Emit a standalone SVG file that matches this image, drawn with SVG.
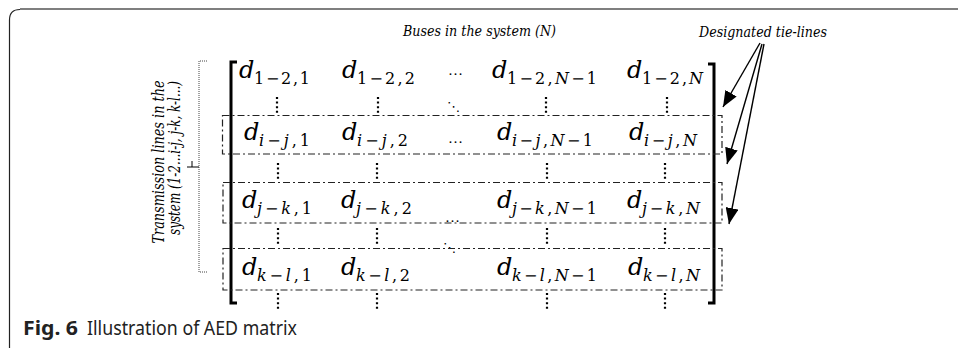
<svg xmlns="http://www.w3.org/2000/svg" width="958" height="348" viewBox="0 0 958 348">
<defs>
<style>
.d{font-family:"DejaVu Serif",serif;font-style:italic;font-size:24px;fill:#000}
.sub{font-family:"DejaVu Serif",serif;font-size:16px;fill:#000}
.it{font-style:italic}
.lbl{font-family:"DejaVu Serif",serif;font-style:italic;font-size:15px;fill:#000}
.vl{font-family:"DejaVu Serif",serif;font-style:italic;font-size:16px;fill:#000}
.dd{fill:none;stroke:#222;stroke-width:1.2;stroke-dasharray:7 3 2 3}
.vd{stroke:#000;stroke-width:2.2;stroke-dasharray:2 2.6}
.br{fill:none;stroke:#000;stroke-width:3}
.arr{stroke:#000;stroke-width:1.4;fill:none;marker-end:url(#ah)}
.ell{font-family:"Liberation Serif",serif;font-size:15px;fill:#000}
.dg{font-family:"DejaVu Sans",sans-serif;font-size:13px;fill:#000}
</style>
<marker id="ah" markerUnits="userSpaceOnUse" markerWidth="17" markerHeight="13" refX="16" refY="6.5" orient="auto">
<path d="M0,0 L16,6.5 L0,13 z" fill="#000"/>
</marker>
</defs>
<g id="frame">
<path d="M9.5 348 V20 Q9.5 9.5 20 9.5" fill="none" stroke="#222" stroke-width="1.2"/>
<line x1="20" y1="9" x2="958" y2="9" stroke="#7f7f7f" stroke-width="2"/>
</g>
<g id="title-buses"><text class="lbl" x="403" y="36" textLength="153" lengthAdjust="spacingAndGlyphs">Buses in the system (N)</text></g>
<g id="title-tielines"><text class="lbl" x="699" y="37" textLength="128" lengthAdjust="spacingAndGlyphs">Designated tie-lines</text></g>
<g id="label-lines">
<path d="M207 61 H199 V272 H207" fill="none" stroke="#444" stroke-width="1" stroke-dasharray="1 1"/>
<path d="M187 167 H199 M192 161 V167" fill="none" stroke="#000" stroke-width="1"/>
<text class="vl" transform="translate(164 162) rotate(-90)" text-anchor="middle" textLength="163" lengthAdjust="spacingAndGlyphs">Transmission lines in the</text>
<text class="vl" transform="translate(180 158) rotate(-90)" text-anchor="middle" textLength="154" lengthAdjust="spacingAndGlyphs">system (1-2...i-j, j-k, k-l...)</text>
</g>
<g id="matrix">
<path class="br" d="M237 62 H231 V303 H237"/>
<path class="br" d="M708 64 H714 V303 H708"/>
<g id="row1">
<text class="d" x="239" y="78">d</text><text class="sub" x="254" y="84" textLength="56" lengthAdjust="spacing">1−2,1</text>
<text class="d" x="342" y="78">d</text><text class="sub" x="357" y="84" textLength="58" lengthAdjust="spacing">1−2,2</text>
<text class="ell" x="448" y="75">…</text>
<text class="d" x="492" y="78">d</text><text class="sub" x="507" y="84" textLength="90" lengthAdjust="spacing">1−2,<tspan class="it">N</tspan>−1</text>
<text class="d" x="627" y="78">d</text><text class="sub" x="642" y="84" textLength="61" lengthAdjust="spacing">1−2,<tspan class="it">N</tspan></text>
</g>
<g id="row2">
<text class="d" x="244" y="140">d</text><text class="sub" x="259" y="146" textLength="51" lengthAdjust="spacing"><tspan class="it">i</tspan>−<tspan class="it">j</tspan>,1</text>
<text class="d" x="342" y="140">d</text><text class="sub" x="357" y="146" textLength="51" lengthAdjust="spacing"><tspan class="it">i</tspan>−<tspan class="it">j</tspan>,2</text>
<text class="ell" x="448" y="143">…</text>
<text class="d" x="497" y="140">d</text><text class="sub" x="512" y="146" textLength="81" lengthAdjust="spacing"><tspan class="it">i</tspan>−<tspan class="it">j</tspan>,<tspan class="it">N</tspan>−1</text>
<text class="d" x="629" y="140">d</text><text class="sub" x="644" y="146" textLength="53" lengthAdjust="spacing"><tspan class="it">i</tspan>−<tspan class="it">j</tspan>,<tspan class="it">N</tspan></text>
</g>
<g id="row3">
<text class="d" x="242" y="208">d</text><text class="sub" x="257" y="214" textLength="55" lengthAdjust="spacing"><tspan class="it">j</tspan>−<tspan class="it">k</tspan>,1</text>
<text class="d" x="341" y="208">d</text><text class="sub" x="356" y="214" textLength="56" lengthAdjust="spacing"><tspan class="it">j</tspan>−<tspan class="it">k</tspan>,2</text>
<text class="ell" x="445" y="222">…</text>
<text class="d" x="497" y="208">d</text><text class="sub" x="512" y="214" textLength="85" lengthAdjust="spacing"><tspan class="it">j</tspan>−<tspan class="it">k</tspan>,<tspan class="it">N</tspan>−1</text>
<text class="d" x="627" y="208">d</text><text class="sub" x="642" y="214" textLength="58" lengthAdjust="spacing"><tspan class="it">j</tspan>−<tspan class="it">k</tspan>,<tspan class="it">N</tspan></text>
</g>
<g id="row4">
<text class="d" x="242" y="275">d</text><text class="sub" x="257" y="281" textLength="55" lengthAdjust="spacing"><tspan class="it">k</tspan>−<tspan class="it">l</tspan>,1</text>
<text class="d" x="341" y="275">d</text><text class="sub" x="356" y="281" textLength="54" lengthAdjust="spacing"><tspan class="it">k</tspan>−<tspan class="it">l</tspan>,2</text>
<text class="d" x="497" y="275">d</text><text class="sub" x="512" y="281" textLength="85" lengthAdjust="spacing"><tspan class="it">k</tspan>−<tspan class="it">l</tspan>,<tspan class="it">N</tspan>−1</text>
<text class="d" x="628" y="275">d</text><text class="sub" x="643" y="281" textLength="57" lengthAdjust="spacing"><tspan class="it">k</tspan>−<tspan class="it">l</tspan>,<tspan class="it">N</tspan></text>
</g>
<g id="diag">
<text class="dg" x="447" y="111">⋱</text>
<text class="dg" x="443" y="252">⋱</text>
</g>
<g id="vdots">
<path class="vd" d="M277 97 V113 M378 97 V113 M546 97 V113 M667 97 V113"/>
<path class="vd" d="M278 163 V180 M377 163 V180 M547 163 V180 M665 163 V180"/>
<path class="vd" d="M278 228 V246 M377 228 V246 M547 228 V246 M665 228 V246"/>
<path class="vd" d="M278 293 V310 M377 293 V310 M547 293 V310 M665 293 V310"/>
</g>
</g>
<g id="tie-boxes">
<rect class="dd" x="222.5" y="115.5" width="499.5" height="38.5"/>
<rect class="dd" x="223" y="182.5" width="499" height="40.5"/>
<rect class="dd" x="223" y="248.5" width="499" height="41.5"/>
</g>
<g id="connectors">
<line class="arr" x1="760" y1="43" x2="723" y2="107"/>
<line class="arr" x1="762" y1="44" x2="727" y2="164"/>
<line class="arr" x1="764" y1="44" x2="729" y2="224"/>
</g>
<g id="caption">
<text x="23" y="335" font-family="'Noto Sans',sans-serif" font-size="19" font-weight="bold" fill="#222" textLength="55" lengthAdjust="spacingAndGlyphs">Fig. 6</text>
<text x="87" y="335" font-family="'Noto Sans',sans-serif" font-size="19" fill="#222" textLength="210" lengthAdjust="spacingAndGlyphs">Illustration of AED matrix</text>
</g>
</svg>
